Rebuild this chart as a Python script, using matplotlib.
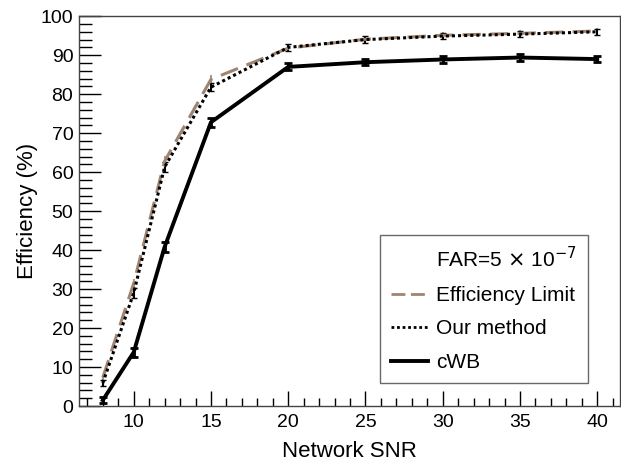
import numpy as np
import matplotlib.pyplot as plt
from matplotlib.lines import Line2D
from matplotlib.ticker import MultipleLocator

plt.rcParams['font.family'] = ['Liberation Sans', 'DejaVu Sans']

# data
snr = [8, 10, 12, 15, 20, 25, 30, 35, 40]
eff_limit = [7.3, 31.5, 62.8, 83.8, 91.8, 94.1, 95.1, 95.6, 96.2]
our_method = [5.9, 29.0, 61.3, 81.8, 92.0, 94.0, 94.9, 95.4, 96.0]
cwb = [1.5, 13.8, 40.8, 72.8, 87.0, 88.2, 88.9, 89.4, 89.0]
err = [0.8, 1.2, 1.3, 1.1, 0.9, 0.8, 0.8, 0.8, 0.8]

brown = '#a08472'

fig = plt.figure(figsize=(6.21, 4.63), dpi=100)
ax = fig.add_axes([0.127, 0.123, 0.872, 0.842])

ax.errorbar(snr, eff_limit, yerr=err, color=brown, lw=2.2, ls=(0, (6, 3)),
            elinewidth=1.2, capsize=0)
ax.errorbar(snr, our_method, yerr=err, color='black', lw=2.2, ls=(0, (1, 1)),
            elinewidth=1.5, capsize=2)
ax.errorbar(snr, cwb, yerr=err, color='black', lw=2.8, ls='-',
            elinewidth=2, capsize=3, capthick=2)

ax.set_xlim(6.45, 41.5)
ax.set_ylim(0, 100)
ax.xaxis.set_major_locator(MultipleLocator(5))
ax.xaxis.set_minor_locator(MultipleLocator(1))
ax.yaxis.set_major_locator(MultipleLocator(10))
ax.yaxis.set_minor_locator(MultipleLocator(2))
ax.tick_params(axis='y', which='major', direction='in', length=16, width=1,
               labelsize=14, pad=4)
ax.tick_params(axis='y', which='minor', direction='in', length=9, width=1)
ax.tick_params(axis='x', which='major', direction='in', length=11, width=1,
               labelsize=14, pad=6)
ax.tick_params(axis='x', which='minor', direction='in', length=6, width=1)
for s in ax.spines.values():
    s.set_linewidth(1)
    s.set_color('#444444')

ax.set_xlabel('Network SNR', fontsize=16, labelpad=7)
ax.set_ylabel('Efficiency (%)', fontsize=16, labelpad=2)

handles = [
    Line2D([], [], color='none'),
    Line2D([], [], color=brown, lw=2, ls=(0, (5, 2))),
    Line2D([], [], color='black', lw=2, ls=(0, (1, 1))),
    Line2D([], [], color='black', lw=2.8),
]
labels = [r'FAR=5 $\times$ 10$^{-7}$', 'Efficiency Limit', 'Our method', 'cWB']
leg = ax.legend(handles, labels, loc='lower right', bbox_to_anchor=(0.94, 0.058),
                borderaxespad=0,
                fontsize=15, frameon=True, fancybox=False, edgecolor='#444444',
                handlelength=1.75, handletextpad=0.4, labelspacing=0.7,
                borderpad=0.55)
leg.get_frame().set_linewidth(1)

fig.savefig('out.png', dpi=100)
